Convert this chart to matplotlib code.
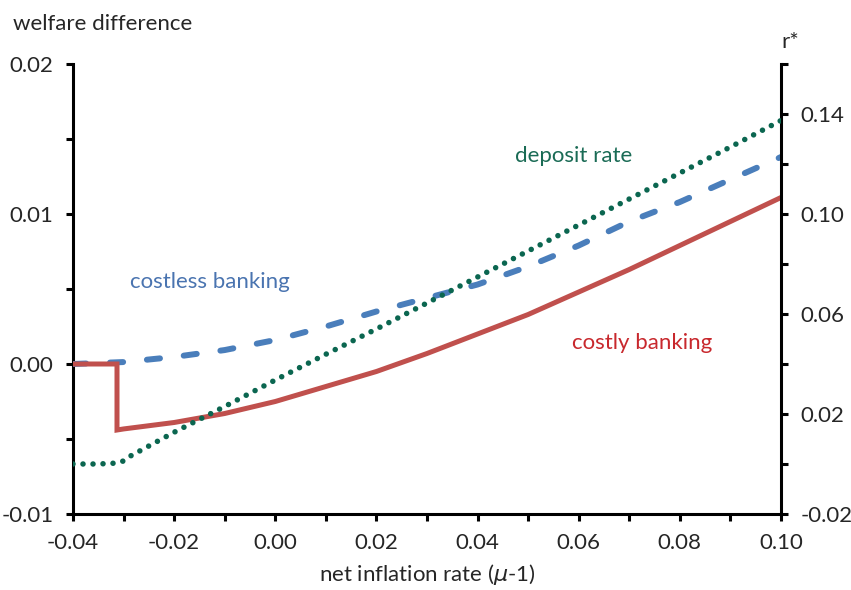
import matplotlib
matplotlib.use("Agg")
import matplotlib.pyplot as plt
from matplotlib.ticker import MultipleLocator, FixedLocator

plt.rcParams["font.family"] = ["Lato", "DejaVu Sans"]

# net inflation rate grid
infl = [-0.04, -0.03, -0.02, -0.01, 0.00, 0.01, 0.02, 0.03, 0.04,
        0.05, 0.06, 0.07, 0.08, 0.09, 0.10]

# welfare difference, costless banking
costless = [0.0, 0.00013, 0.00047, 0.00093, 0.0016, 0.0025, 0.0035, 0.0044,
            0.0053, 0.0065, 0.0079, 0.0095, 0.0108, 0.0123, 0.0138]

# welfare difference, costly banking (jump at the threshold)
costly_x = [-0.04, -0.0313, -0.0313, -0.03, -0.02, -0.01, 0.00, 0.01, 0.02,
            0.03, 0.04, 0.05, 0.06, 0.07, 0.08, 0.09, 0.10]
costly = [0.0, 0.0, -0.0044, -0.00433, -0.0039, -0.0033, -0.0025, -0.0015,
          -0.0005, 0.0007, 0.0020, 0.0033, 0.0048, 0.0063, 0.0079, 0.0095,
          0.0111]

# deposit rate r* (right axis)
dep_x = [-0.04, -0.035, -0.032, -0.03, -0.029, -0.02, -0.01, 0.00, 0.01,
         0.02, 0.03, 0.04, 0.05, 0.06, 0.07, 0.08, 0.09, 0.10]
deposit = [0.0, 0.0, 0.0003, 0.0012, 0.0028, 0.0127, 0.023, 0.0336, 0.0439,
           0.054, 0.0644, 0.0748, 0.0852, 0.0956, 0.106, 0.1164, 0.1268,
           0.1374]

blue = "#4a7ebb"
red = "#c0504d"
green = "#0b6650"
txt = "#262626"
fs = 16

fig = plt.figure(figsize=(8.51, 5.90), dpi=100)
ax = fig.add_axes([73 / 851, 1 - 514 / 590, 708 / 851, 450 / 590])
ax2 = ax.twinx()

ax.plot(infl, costless, color=blue, lw=4.3, linestyle=(0, (2.2, 4.0)),
        dash_capstyle="round", zorder=3)
ax.plot(costly_x, costly, color=red, lw=3.6, solid_joinstyle="miter", zorder=3)
ax2.plot(dep_x, deposit, color=green, lw=4.0, linestyle=(0, (0.001, 1.8)),
         dash_capstyle="round", zorder=3)

ax.set_xlim(-0.04, 0.10)
ax.set_ylim(-0.01, 0.02)
ax2.set_ylim(-0.02, 0.16)

ax.xaxis.set_major_locator(MultipleLocator(0.02))
ax.xaxis.set_minor_locator(MultipleLocator(0.01))
ax.yaxis.set_major_locator(MultipleLocator(0.01))
ax.yaxis.set_minor_locator(MultipleLocator(0.005))
ax2.yaxis.set_major_locator(FixedLocator([-0.02, 0.02, 0.06, 0.10, 0.14]))
ax2.yaxis.set_minor_locator(FixedLocator([0.0, 0.04, 0.08, 0.12, 0.16]))

ax.xaxis.set_major_formatter(lambda v, p: f"{v:.2f}".replace("-0.00", "0.00"))
ax.yaxis.set_major_formatter(lambda v, p: f"{v:.2f}".replace("-0.00", "0.00"))
ax2.yaxis.set_major_formatter(lambda v, p: f"{v:.2f}")

for a in (ax, ax2):
    for s in a.spines.values():
        s.set_linewidth(2.2)
    a.spines["top"].set_visible(False)
    a.tick_params(which="both", direction="out", length=5, width=2.2,
                  labelsize=fs, labelcolor=txt, pad=9)
ax.spines["right"].set_visible(False)
ax2.spines["left"].set_visible(False)
ax2.spines["bottom"].set_visible(False)

ax.set_xlabel("net inflation rate ($\\mu$-1)", fontsize=fs, color=txt,
              labelpad=6)
fig.text(13 / 851, 1 - 24 / 590, "welfare difference", fontsize=fs,
         color=txt, va="center", ha="left")
fig.text(790 / 851, 1 - 42 / 590, "r*", fontsize=fs, color=txt,
         va="center", ha="center")

ax.text(-0.013, 0.0055, "costless banking", color="#4a74b0", fontsize=fs,
        ha="center", va="center")
ax.text(0.059, 0.0139, "deposit rate", color="#1a6b55", fontsize=fs,
        ha="center", va="center")
ax.text(0.0725, 0.0014, "costly banking", color="#c8282d", fontsize=fs,
        ha="center", va="center")

fig.savefig("out.png", dpi=100)
